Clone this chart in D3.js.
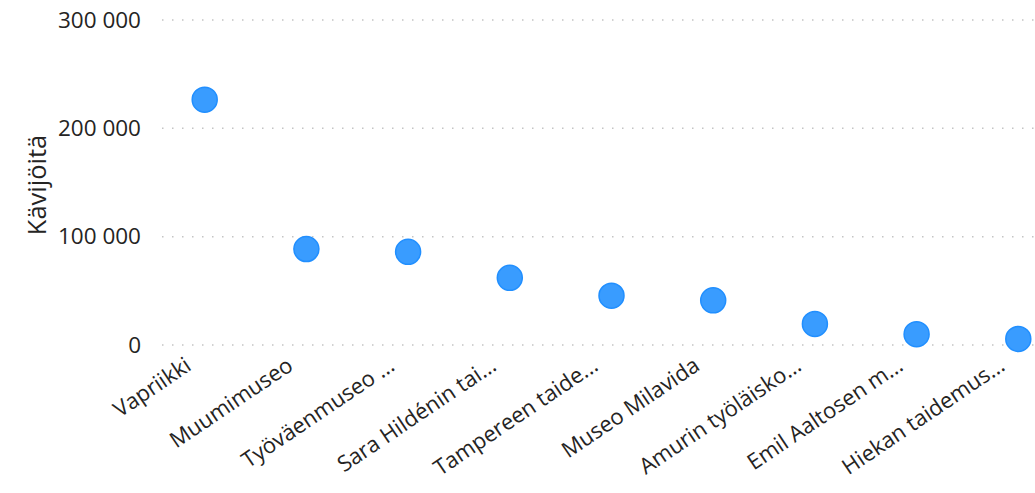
<!DOCTYPE html>
<html>
<head>
<meta charset="utf-8">
<script src="https://cdn.jsdelivr.net/npm/d3@7/dist/d3.min.js"></script>
<style>
  html, body { margin: 0; padding: 0; background: #fff; }
  svg { display: block; font-family: "Open Sans", "Noto Sans", sans-serif; }
</style>
</head>
<body>
<svg id="chart" width="1035" height="493"></svg>
<script>
const categories = ["Vapriikki", "Muumimuseo", "Työväenmuseo ...", "Sara Hildénin tai...", "Tampereen taide...", "Museo Milavida", "Amurin työläisko...", "Emil Aaltosen m...", "Hiekan taidemus..."];
const visitors = [226500, 88600, 86000, 62000, 45500, 41200, 19500, 10000, 5600];
const yTicks = [0, 100000, 200000, 300000];
const yTitle = "Kävijöitä";

const svg = d3.select("#chart");
const W = 1035, H = 493;

const x = d3.scalePoint().domain(categories).range([204.7, 1018.3]);
const y = d3.scaleLinear().domain([0, 300000]).range([345, 20]);

const fmt = v => d3.format(",")(v).replace(/,/g, " ");

// gridlines
svg.append("g").selectAll("line").data(yTicks).join("line")
  .attr("x1", 162).attr("x2", W)
  .attr("y1", d => y(d)).attr("y2", d => y(d))
  .attr("stroke", "#c4c4c4").attr("stroke-width", 1.5)
  .attr("stroke-dasharray", "1.5 8.5");

// y axis labels
const yAxis = d3.axisLeft(y).tickValues(yTicks).tickFormat(fmt).tickSize(0).tickPadding(0);
const gy = svg.append("g").attr("transform", "translate(141,0)").call(yAxis);
gy.select(".domain").remove();
gy.selectAll("text").attr("font-size", 22.5).attr("fill", "#252423")
  .attr("font-family", "'Open Sans', sans-serif");

// y title
svg.append("text")
  .attr("transform", "translate(46,185) rotate(-90)")
  .attr("text-anchor", "middle")
  .attr("font-size", 25.5).attr("fill", "#252423")
  .text(yTitle);

// x axis labels
const xAxis = d3.axisBottom(x).tickSize(0).tickPadding(0);
const gx = svg.append("g").call(xAxis);
gx.select(".domain").remove();
gx.selectAll(".tick").attr("transform", d => `translate(${x(d) - 12},369)`);
gx.selectAll("text")
  .attr("font-size", 22).attr("fill", "#252423")
  .attr("font-family", "'Open Sans', sans-serif")
  .attr("text-anchor", "end")
  .attr("x", 0).attr("y", 0).attr("dy", 0)
  .attr("transform", "rotate(-34)");

// points
svg.append("g").selectAll("circle").data(categories).join("circle")
  .attr("cx", d => x(d))
  .attr("cy", (d, i) => y(visitors[i]))
  .attr("r", 12.5)
  .attr("fill", "#399cff")
  .attr("stroke", "#218fff").attr("stroke-width", 1.5);
</script>
</body>
</html>
